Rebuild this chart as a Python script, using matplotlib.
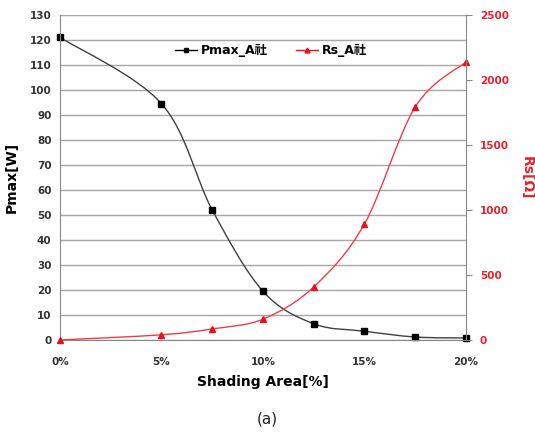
import numpy as np
import matplotlib
matplotlib.use("Agg")
import matplotlib.pyplot as plt
from matplotlib.path import Path
from matplotlib.patches import PathPatch
from matplotlib.lines import Line2D

plt.rcParams['font.family'] = ['DejaVu Sans', 'Noto Sans CJK KR']

# data
shading = [0, 5, 7.5, 10, 12.5, 15, 17.5, 20]
pmax = [121, 94.5, 52, 19.5, 6.5, 3.5, 1.2, 0.8]
rs = [0, 40, 85, 160, 408, 892, 1792, 2138]
x_ticks = [0, 5, 10, 15, 20]
x_labels = ['0%', '5%', '10%', '15%', '20%']
pmax_name = 'Pmax_A社'
rs_name = 'Rs_A社'


def smooth_path(xs, ys, k=1 / 6):
    # Excel-like smoothed line as cubic bezier through the points
    pts = np.column_stack([xs, ys]).astype(float)
    verts = [pts[0]]
    codes = [Path.MOVETO]
    n = len(pts)
    for i in range(n - 1):
        p0 = pts[i - 1] if i > 0 else pts[i]
        p1 = pts[i]
        p2 = pts[i + 1]
        p3 = pts[i + 2] if i + 2 < n else pts[i + 1]
        c1 = p1 + (p2 - p0) * k
        c2 = p2 - (p3 - p1) * k
        verts += [c1, c2, p2]
        codes += [Path.CURVE4] * 3
    return Path(verts, codes)


fig = plt.figure(figsize=(5.35, 4.37), dpi=100)
ax = fig.add_axes([0.112, 0.222, 0.759, 0.744])
ax2 = ax.twinx()

ax.set_xlim(0, 20)
ax.set_ylim(0, 130)
ax2.set_ylim(0, 2500)

ax.set_yticks(np.arange(0, 131, 10))
ax2.set_yticks(np.arange(0, 2501, 500))
ax.set_xticks(x_ticks)
ax.set_xticklabels(x_labels)

ax.grid(axis='y', color='#a6a6a6', lw=1)
ax.set_axisbelow(True)
for s in ['top', 'right']:
    ax.spines[s].set_visible(False)
for s in ['top', 'left', 'bottom']:
    ax2.spines[s].set_visible(False)
ax.spines['left'].set_color('#888888')
ax.spines['bottom'].set_color('#888888')
ax2.spines['right'].set_color('#888888')

ax.tick_params(axis='both', length=0, labelsize=7.5, colors='#333333', pad=6)
ax.tick_params(axis='x', pad=12)
ax2.tick_params(axis='y', length=4, color='#888888', labelsize=7.5, labelcolor='#e8202a', pad=6)
for lab in ax.get_xticklabels() + ax.get_yticklabels() + ax2.get_yticklabels():
    lab.set_fontweight('bold')

ax.add_patch(PathPatch(smooth_path(shading, pmax), fill=False, color='#404040', lw=1, transform=ax.transData))
ax.plot(shading, pmax, ls='none', marker='s', ms=4, color='black', clip_on=False)
ax2.add_patch(PathPatch(smooth_path(shading, rs), fill=False, color='#f03c46', lw=1, transform=ax2.transData))
ax2.plot(shading, rs, ls='none', marker='^', ms=4, color='#e8101c', clip_on=False)

handles = [Line2D([], [], color='black', marker='s', ms=3.5, lw=1),
           Line2D([], [], color='#e8101c', marker='^', ms=3.5, lw=1)]
ax2.legend(handles, [pmax_name, rs_name], loc='upper center', bbox_to_anchor=(0.52, 0.945),
           ncol=2, frameon=False, handlelength=1.8, columnspacing=2.2, handletextpad=0.3,
           prop={'family': ['DejaVu Sans', 'Noto Sans CJK KR'], 'weight': 'bold', 'size': 9})

ax.set_ylabel('Pmax[W]', fontsize=10, fontweight='bold', labelpad=8)
ax2.set_ylabel('Rs[Ω]', fontsize=10, fontweight='bold', color='#e8202a', rotation=270, labelpad=18)
ax.set_xlabel('Shading Area[%]', fontsize=10, fontweight='bold', labelpad=6)
fig.text(0.5, 0.03, '(a)', ha='center', fontsize=11, color='#222222')

fig.savefig('out.png', dpi=100)
